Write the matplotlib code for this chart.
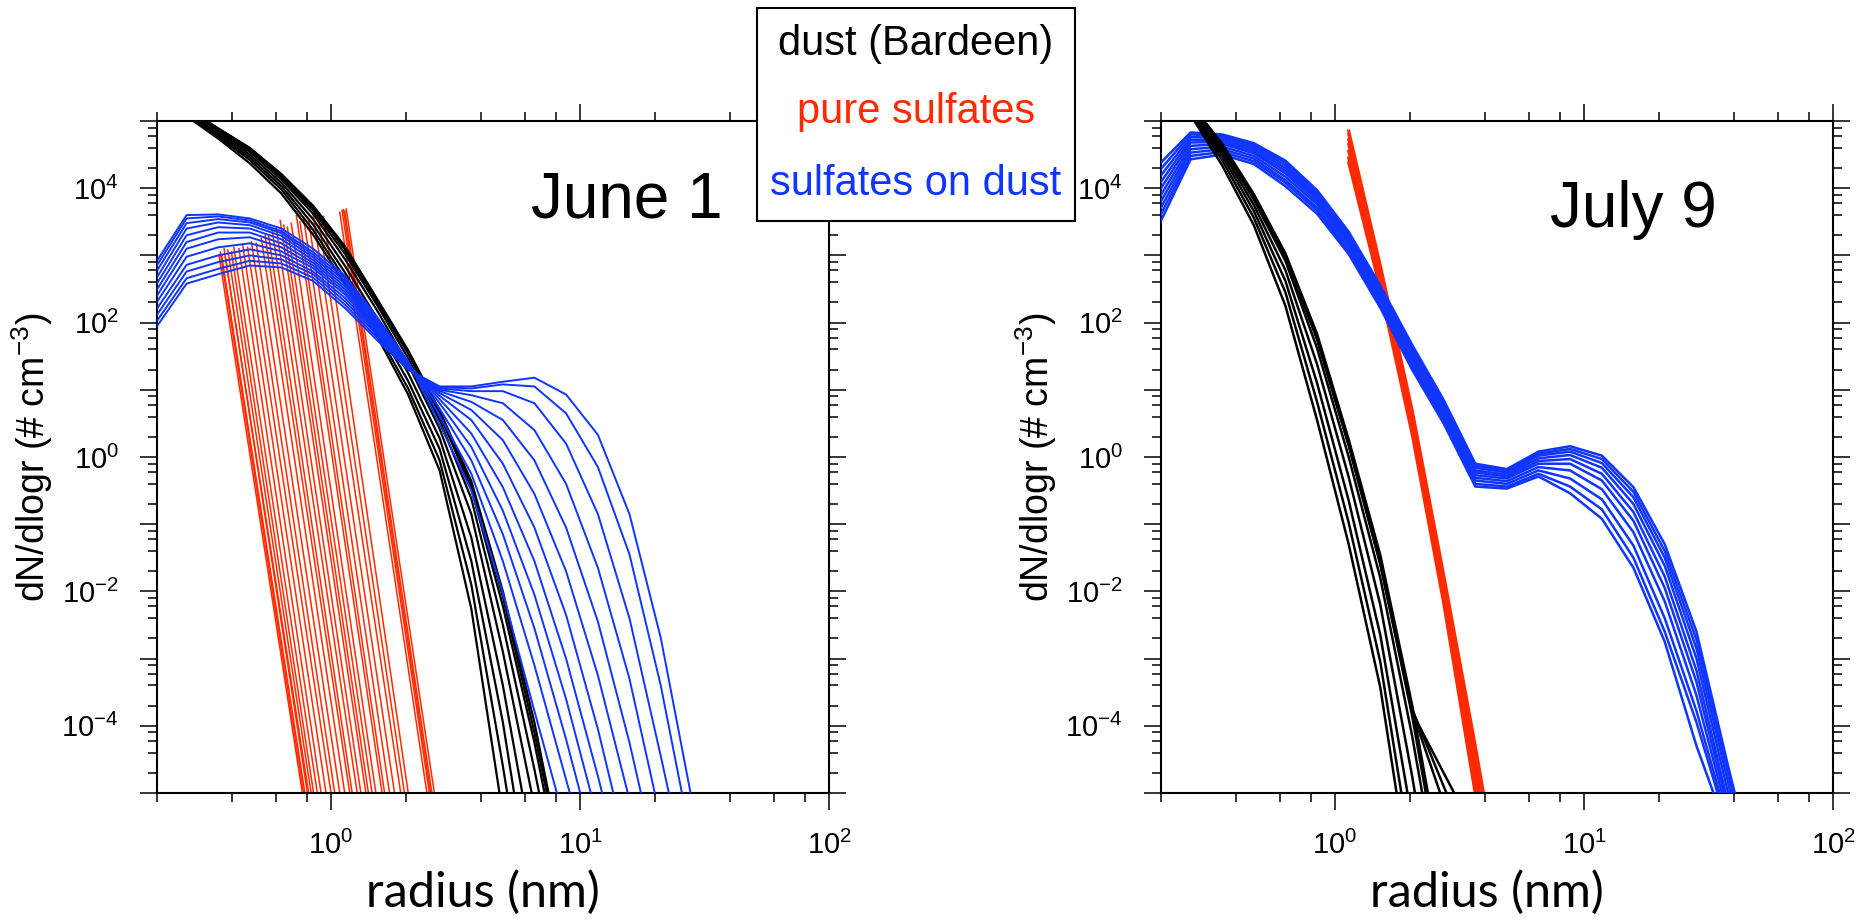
import numpy as np
import matplotlib
matplotlib.use("Agg")
import matplotlib.pyplot as plt
from matplotlib import ticker
from matplotlib.patches import Rectangle

plt.rcParams['font.family'] = ['Liberation Sans', 'DejaVu Sans']
plt.rcParams['mathtext.fontset'] = 'custom'
plt.rcParams['mathtext.rm'] = 'Liberation Sans'

RED = '#ff2a00'
BLUE = '#0f35ff'

# model radius bins (nm)
r_bins = [0.196, 0.263, 0.352, 0.472, 0.632, 0.847, 1.135, 1.52, 2.04, 2.73,
          3.66, 4.90, 6.56, 8.79, 11.8, 15.8, 21.1, 28.3, 37.9, 50.8]

# ---- June 1 : log10(dN/dlogr) at r_bins ----
june_dust = [
    [5.41, 5.07, 4.74, 4.37, 3.92, 3.31, 2.58, 1.82, 0.93, -0.20, -2.26, -5.33],
    [5.43, 5.10, 4.77, 4.42, 3.98, 3.38, 2.66, 1.88, 1.02, -0.05, -1.90, -4.60, -7.50],
    [5.44, 5.12, 4.80, 4.46, 4.03, 3.46, 2.75, 1.97, 1.13, 0.12, -1.55, -3.95, -6.90],
    [5.45, 5.14, 4.83, 4.50, 4.08, 3.54, 2.85, 2.08, 1.25, 0.28, -1.20, -3.40, -6.00],
    [5.46, 5.16, 4.85, 4.54, 4.13, 3.62, 2.95, 2.20, 1.38, 0.42, -0.85, -2.90, -5.20],
    [5.47, 5.17, 4.87, 4.56, 4.17, 3.67, 3.03, 2.28, 1.47, 0.55, -0.62, -2.50, -4.65, -7.00],
    [5.48, 5.18, 4.88, 4.58, 4.19, 3.71, 3.09, 2.33, 1.54, 0.63, -0.47, -2.22, -4.25, -6.60],
    [5.49, 5.19, 4.89, 4.59, 4.20, 3.73, 3.12, 2.36, 1.57, 0.67, -0.40, -2.08, -4.10, -6.40],
    [5.49, 5.19, 4.89, 4.60, 4.21, 3.74, 3.14, 2.37, 1.59, 0.69, -0.36, -2.00, -3.95, -6.30],
]

june_sod = [
    [2.87, 3.60, 3.61, 3.55, 3.40, 3.10, 2.70, 2.10, 1.42, 0.49, -0.50, -2.03, -3.78, -5.50],
    [2.80, 3.55, 3.58, 3.52, 3.36, 3.05, 2.66, 2.07, 1.41, 0.62, -0.25, -1.55, -3.10, -4.80, -6.50],
    [2.72, 3.48, 3.54, 3.49, 3.33, 3.01, 2.62, 2.04, 1.40, 0.72, -0.05, -1.15, -2.55, -4.20, -6.00],
    [2.62, 3.40, 3.49, 3.45, 3.29, 2.97, 2.58, 2.01, 1.38, 0.80, 0.15, -0.80, -2.05, -3.60, -5.40],
    [2.53, 3.30, 3.42, 3.40, 3.24, 2.93, 2.54, 1.98, 1.37, 0.86, 0.35, -0.45, -1.55, -3.00, -4.75, -6.60],
    [2.44, 3.20, 3.34, 3.34, 3.18, 2.89, 2.50, 1.95, 1.35, 0.91, 0.55, -0.10, -1.05, -2.35, -4.05, -6.00],
    [2.35, 3.10, 3.24, 3.27, 3.12, 2.85, 2.46, 1.92, 1.34, 0.95, 0.70, 0.25, -0.55, -1.70, -3.25, -5.10],
    [2.26, 2.98, 3.12, 3.18, 3.06, 2.81, 2.42, 1.89, 1.33, 0.98, 0.82, 0.55, -0.05, -1.05, -2.45, -4.25, -6.30],
    [2.16, 2.86, 3.00, 3.09, 3.00, 2.76, 2.37, 1.86, 1.32, 1.00, 0.92, 0.80, 0.40, -0.40, -1.65, -3.30, -5.40],
    [2.07, 2.76, 2.90, 3.00, 2.94, 2.72, 2.32, 1.83, 1.31, 1.02, 0.98, 0.98, 0.80, 0.20, -0.85, -2.40, -4.45, -6.60],
    [1.98, 2.66, 2.80, 2.92, 2.88, 2.67, 2.27, 1.79, 1.30, 1.04, 1.02, 1.08, 1.05, 0.65, -0.15, -1.45, -3.40, -5.80],
    [1.90, 2.58, 2.72, 2.85, 2.82, 2.62, 2.22, 1.75, 1.30, 1.05, 1.05, 1.12, 1.18, 0.93, 0.33, -0.85, -2.69, -5.15],
]

# pure sulfates, June 1: each line from (top radius, top log10 dN) down to radius at 1e-5
june_red_top_r = [0.355, 0.359, 0.363, 0.372, 0.376, 0.385, 0.398, 0.407, 0.427, 0.442,
                  0.462, 0.479, 0.501, 0.525, 0.543, 0.562, 0.582, 0.603, 0.625, 0.646,
                  0.668, 0.692, 0.726, 0.750, 0.776, 0.813, 0.847, 0.891, 0.933,
                  1.084, 1.107, 1.122, 1.135, 1.151]
june_red_top_dn = [3.00, 3.05, 3.02, 3.10, 2.98, 3.08, 3.05, 3.12, 3.10, 3.15,
                   3.12, 3.20, 3.18, 3.25, 3.30, 3.28, 3.35, 3.40, 3.52, 3.45,
                   3.42, 3.48, 3.59, 3.50, 3.55, 3.52, 3.61, 3.55, 3.58,
                   3.64, 3.67, 3.68, 3.66, 3.69]
june_red_end_r = [0.767, 0.776, 0.785, 0.804, 0.813, 0.832, 0.851, 0.881, 0.912, 0.955,
                  1.000, 1.035, 1.084, 1.135, 1.189, 1.216, 1.274, 1.318, 1.380, 1.413,
                  1.462, 1.514, 1.603, 1.641, 1.718, 1.799, 1.905, 1.972, 2.042,
                  2.427, 2.483, 2.512, 2.541, 2.600]

# ---- July 9 ----
july_dust = [
    [5.80, 5.09, 4.34, 3.45, 2.25, 0.55, -1.30, -3.43, -6.50],
    [5.81, 5.13, 4.42, 3.56, 2.45, 0.82, -0.98, -3.05, -6.00],
    [5.82, 5.16, 4.49, 3.66, 2.62, 1.10, -0.65, -2.65, -5.40],
    [5.83, 5.19, 4.55, 3.75, 2.78, 1.38, -0.30, -2.20, -4.75, -7.50],
    [5.84, 5.22, 4.60, 3.83, 2.92, 1.62, 0.00, -1.80, -4.15, -6.80],
    [5.85, 5.24, 4.63, 3.88, 2.99, 1.75, 0.18, -1.58, -3.85, -6.50],
    [5.85, 5.26, 4.66, 3.91, 3.03, 1.83, 0.26, -1.46, -3.69, -6.30],
    [5.85, 5.25, 4.65, 3.90, 3.01, 1.80, 0.22, -1.52, -3.80, -4.70, -5.60],
    [5.85, 5.25, 4.64, 3.89, 3.00, 1.78, 0.20, -1.55, -3.75, -4.90, -6.00],
    [5.84, 5.24, 4.63, 3.87, 2.98, 1.76, 0.17, -1.60, -3.78, -5.15, -6.50],
]

july_sod = [
    [4.35, 4.83, 4.80, 4.67, 4.41, 3.97, 3.35, 2.55, 1.67, 0.85, -0.10, -0.18, 0.08, 0.16, 0.02, -0.45, -1.30, -2.60, -4.60, -6.50],
    [4.25, 4.80, 4.78, 4.64, 4.38, 3.94, 3.32, 2.52, 1.63, 0.81, -0.13, -0.20, 0.05, 0.12, -0.03, -0.52, -1.40, -2.72, -4.72, -6.60],
    [4.15, 4.76, 4.75, 4.61, 4.34, 3.90, 3.29, 2.48, 1.59, 0.77, -0.16, -0.23, 0.02, 0.08, -0.09, -0.60, -1.50, -2.85, -4.85, -6.80],
    [4.05, 4.72, 4.72, 4.58, 4.30, 3.87, 3.26, 2.45, 1.55, 0.73, -0.20, -0.26, -0.02, 0.03, -0.16, -0.70, -1.62, -3.00, -5.00, -7.00],
    [3.95, 4.68, 4.69, 4.55, 4.26, 3.84, 3.23, 2.42, 1.51, 0.70, -0.23, -0.29, -0.06, -0.03, -0.25, -0.82, -1.78, -3.18, -5.15],
    [3.85, 4.63, 4.66, 4.52, 4.22, 3.80, 3.19, 2.39, 1.47, 0.66, -0.27, -0.32, -0.10, -0.10, -0.35, -0.95, -1.95, -3.35, -5.25],
    [3.75, 4.58, 4.62, 4.48, 4.17, 3.76, 3.15, 2.35, 1.43, 0.62, -0.31, -0.36, -0.15, -0.20, -0.48, -1.12, -2.15, -3.55, -5.35],
    [3.65, 4.53, 4.58, 4.44, 4.12, 3.71, 3.10, 2.30, 1.38, 0.58, -0.35, -0.40, -0.20, -0.32, -0.63, -1.32, -2.40, -3.78, -5.45],
    [3.55, 4.48, 4.54, 4.40, 4.08, 3.67, 3.06, 2.26, 1.34, 0.54, -0.40, -0.44, -0.25, -0.44, -0.78, -1.50, -2.60, -3.95, -5.52],
    [3.45, 4.43, 4.50, 4.36, 4.03, 3.62, 3.02, 2.22, 1.30, 0.50, -0.44, -0.47, -0.29, -0.54, -0.92, -1.65, -2.75, -4.30, -5.60],
]

july_red_r = [1.135, 1.52, 2.04, 2.73, 3.66, 4.90]
july_red = [
    [4.85, 2.85, 0.70, -1.75, -4.30, -7.00],
    [4.80, 2.80, 0.64, -1.82, -4.42, -7.10],
    [4.72, 2.74, 0.58, -1.89, -4.54, -7.20],
    [4.65, 2.68, 0.52, -1.96, -4.66, -7.30],
    [4.55, 2.62, 0.46, -2.03, -4.78, -7.40],
    [4.45, 2.56, 0.40, -2.10, -4.90, -7.50],
    [4.38, 2.50, 0.34, -2.17, -5.02, -7.60],
]

x_major = [1, 10, 100]
x_labels = [r'$\mathregular{10^{0}}$', r'$\mathregular{10^{1}}$', r'$\mathregular{10^{2}}$']
y_major = [1e-5, 1e-4, 1e-3, 1e-2, 1e-1, 1e0, 1e1, 1e2, 1e3, 1e4, 1e5]
y_labels = ['', r'$\mathregular{10^{-4}}$', '', r'$\mathregular{10^{-2}}$', '',
            r'$\mathregular{10^{0}}$', '', r'$\mathregular{10^{2}}$', '',
            r'$\mathregular{10^{4}}$', '']

W, H = 1866, 924
fig = plt.figure(figsize=(W / 100, H / 100), dpi=100)


def draw_family(ax, rows, r, color, lw, z):
    for row in rows:
        ax.plot(r[:len(row)], 10.0 ** np.array(row), color=color, lw=lw, zorder=z)


def setup(ax):
    ax.set_xscale('log')
    ax.set_yscale('log')
    ax.set_xlim(0.2, 100)
    ax.set_ylim(1e-5, 1e5)
    ax.set_xticks(x_major, labels=x_labels)
    ax.set_yticks(y_major, labels=y_labels)
    loc = dict(base=10, subs=(2.0, 4.0, 6.0, 8.0), numticks=30)
    ax.xaxis.set_minor_locator(ticker.LogLocator(**loc))
    ax.yaxis.set_minor_locator(ticker.LogLocator(**loc))
    ax.xaxis.set_minor_formatter(ticker.NullFormatter())
    ax.yaxis.set_minor_formatter(ticker.NullFormatter())
    ax.tick_params(which='both', direction='out', top=True, right=True,
                   width=1.1, labelsize=21, pad=15)
    ax.tick_params(which='major', length=12.5)
    ax.tick_params(which='minor', length=6.3)
    for s in ax.spines.values():
        s.set_linewidth(1.5)


# left panel: June 1
ax1 = fig.add_axes([157 / W, 1 - 793 / H, 672 / W, 672 / H])
for rt, dt, re in zip(june_red_top_r, june_red_top_dn, june_red_end_r):
    ax1.plot([rt, re], [10.0 ** dt, 1e-5], color=RED, lw=1.1, zorder=2)
draw_family(ax1, june_dust, r_bins, 'black', 1.6, 3)
draw_family(ax1, june_sod, r_bins, BLUE, 1.4, 4)
setup(ax1)

# right panel: July 9
ax2 = fig.add_axes([1161 / W, 1 - 793 / H, 672 / W, 672 / H])
draw_family(ax2, july_red, july_red_r, RED, 2.2, 2)
draw_family(ax2, july_sod, r_bins, BLUE, 1.8, 3)
draw_family(ax2, july_dust, r_bins, 'black', 1.8, 4)
setup(ax2)

ylab = r'dN/dlogr (# cm$^{\mathregular{-3}}$)'
for dx in (0, 1004):
    fig.text((32 + dx) / W, 1 - 457 / H, ylab, rotation=90, ha='center', va='center', fontsize=27)
    fig.text((483 + dx) / W, 1 - 907 / H, 'radius (nm)', family=['Lato', 'DejaVu Sans'],
             fontsize=35, ha='center', va='baseline')

fig.text(531 / W, 1 - 217 / H, 'June 1', fontsize=46, ha='left', va='baseline')
fig.text(1550 / W, 1 - 227 / H, 'July 9', fontsize=46, ha='left', va='baseline')

# legend box
box = Rectangle((757 / W, 1 - 221 / H), (1075 - 757) / W, (221 - 8) / H,
                transform=fig.transFigure, facecolor='white', edgecolor='black',
                lw=1.5, zorder=5)
fig.add_artist(box)
fig.text(916 / W, 1 - 55 / H, 'dust (Bardeen)', color='black', fontsize=30,
         ha='center', va='baseline', zorder=6)
fig.text(916 / W, 1 - 123 / H, 'pure sulfates', color=RED, fontsize=30,
         ha='center', va='baseline', zorder=6)
fig.text(916 / W, 1 - 195 / H, 'sulfates on dust', color=BLUE, fontsize=30,
         ha='center', va='baseline', zorder=6)

fig.savefig('out.png', dpi=100)
